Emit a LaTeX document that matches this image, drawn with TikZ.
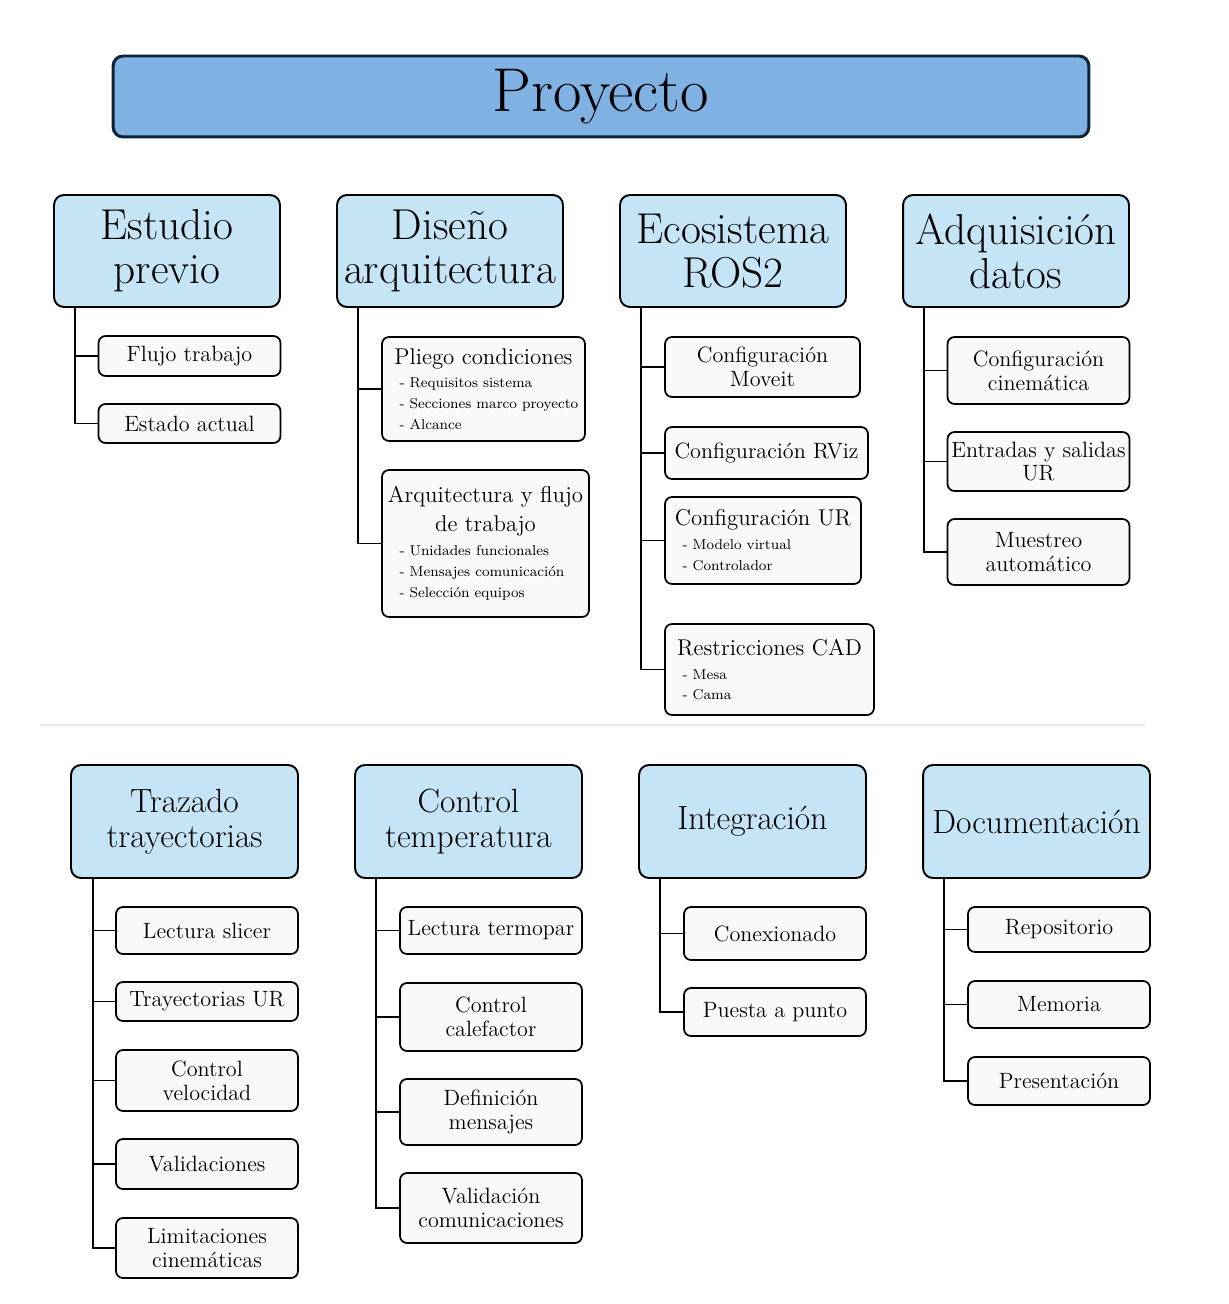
\documentclass[tikz,border=0pt]{standalone}
\usepackage{fontspec}
\definecolor{titlefill}{HTML}{7FB2E2}
\definecolor{titledraw}{HTML}{0E2336}
\definecolor{headfill}{HTML}{C5E4F5}
\definecolor{leaffill}{HTML}{F9F9F9}
\definecolor{sepgray}{HTML}{EBEBEB}
\newcommand{\sublist}[2]{\parbox[t]{#1}{\raggedright\leftskip=0.25cm\fontsize{8.15}{11.9}\selectfont #2}}

\begin{document}
\begin{tikzpicture}[x=0.02cm,y=-0.02cm,
  titlebox/.style={draw=titledraw, fill=titlefill, line width=1.7pt, rounded corners=0.2cm,
    minimum width=19.52cm, minimum height=1.62cm, font=\fontsize{35.2}{37}\selectfont},
  headbox/.style={draw, fill=headfill, line width=1.1pt, rounded corners=0.2cm, align=center,
    minimum width=4.52cm, minimum height=2.24cm, inner sep=2pt, font=\fontsize{24.6}{25}\selectfont},
  headboxb/.style={headbox, minimum width=4.54cm, minimum height=2.26cm, font=\fontsize{19.1}{19.9}\selectfont},
  leafbox/.style={draw, fill=leaffill, line width=1pt, rounded corners=0.14cm, align=center,
    minimum width=3.64cm, inner sep=2pt, font=\fontsize{12.6}{13.6}\selectfont},
  listbox/.style={leafbox, font=\fontsize{13}{13.6}\selectfont},
  link/.style={line width=1.1pt},
]
\useasboundingbox (0,0) rectangle (1228,1304);

\node[titlebox] (proyecto) at (601,96.5) {Proyecto};

% primera fila
\node[headbox] (estudio) at (167,251) {Estudio\\previo};
\node[headbox] (diseno) at (450,251) {Diseño\\arquitectura};
\node[headbox] (ros) at (733,251) {Ecosistema\\ROS2};
\node[headbox] (adq) at (1016,251) {Adquisición\\datos};

\node[leafbox, minimum height=0.8cm] (flujo) at (189.5,356) {Flujo trabajo};
\node[leafbox, minimum height=0.78cm] (estado) at (189.5,423.5) {Estado actual};

\node[listbox, minimum width=4.06cm, minimum height=2.08cm] (pliego) at (483.5,389)
  {Pliego condiciones\\\sublist{3.86cm}{- Requisitos sistema\\- Secciones marco proyecto\\- Alcance}};
\node[listbox, minimum width=4.14cm, minimum height=2.94cm] (arqui) at (485.5,543.5)
  {Arquitectura y flujo\\[3pt]de trabajo\\\sublist{3.94cm}{- Unidades funcionales\\- Mensajes comunicación\\- Selección equipos}};

\node[leafbox, minimum width=3.9cm, minimum height=1.2cm] (moveit) at (762.5,367) {Configuración\\Moveit};
\node[leafbox, minimum width=4.06cm, minimum height=1.04cm] (rviz) at (766.5,453) {Configuración RViz};
\node[listbox, minimum width=3.92cm, minimum height=1.74cm] (confur) at (763,540.5)
  {Configuración UR\\\sublist{3.72cm}{- Modelo virtual\\- Controlador}};
\node[listbox, minimum width=4.18cm, minimum height=1.82cm] (cad) at (769.5,669.5)
  {Restricciones CAD\\\sublist{3.98cm}{- Mesa\\- Cama}};

\node[leafbox, minimum height=1.34cm] (cinem) at (1038.5,370.5) {Configuración\\cinemática};
\node[leafbox, minimum height=1.18cm] (entradas) at (1038.5,461.5) {Entradas y salidas\\UR};
\node[leafbox, minimum height=1.32cm] (muestreo) at (1038.5,552) {Muestreo\\automático};

\draw[link] ([xshift=0.44cm]estudio.south west) |- (flujo.west);
\draw[link] ([xshift=0.44cm]estudio.south west) |- (estado.west);
\draw[link] ([xshift=0.44cm]diseno.south west) |- (pliego.west);
\draw[link] ([xshift=0.44cm]diseno.south west) |- (arqui.west);
\draw[link] ([xshift=0.44cm]ros.south west) |- (moveit.west);
\draw[link] ([xshift=0.44cm]ros.south west) |- (rviz.west);
\draw[link] ([xshift=0.44cm]ros.south west) |- (confur.west);
\draw[link] ([xshift=0.44cm]ros.south west) |- (cad.west);
\draw[link] ([xshift=0.44cm]adq.south west) |- (cinem.west);
\draw[link] ([xshift=0.44cm]adq.south west) |- (entradas.west);
\draw[link] ([xshift=0.44cm]adq.south west) |- (muestreo.west);

\draw[sepgray, line width=0.6pt] (40,725) -- (1145,725);

% segunda fila
\node[headboxb] (trazado) at (184.5,821.5) {Trazado\\trayectorias};
\node[headboxb] (temp) at (468.5,821.5) {Control\\temperatura};
\node[headboxb] (integ) at (752.5,821.5) {Integración};
\node[headboxb] (docu) at (1036.5,821.5) {Documentación};

\node[leafbox, minimum height=0.94cm] (slicer) at (207,930.5) {Lectura slicer};
\node[leafbox, minimum height=0.78cm] (trayur) at (207,1001.5) {Trayectorias UR};
\node[leafbox, minimum height=1.22cm] (veloc) at (207,1080.5) {Control\\velocidad};
\node[leafbox, minimum height=1.0cm] (valid) at (207,1164) {Validaciones};
\node[leafbox, minimum height=1.2cm] (limit) at (207,1248) {Limitaciones\\cinemáticas};

\node[leafbox, minimum height=0.94cm] (termopar) at (491,930.5) {Lectura termopar};
\node[leafbox, minimum height=1.36cm] (calef) at (491,1017) {Control\\calefactor};
\node[leafbox, minimum height=1.32cm] (mensajes) at (491,1112) {Definición\\mensajes};
\node[leafbox, minimum height=1.4cm] (comunic) at (491,1208) {Validación\\comunicaciones};

\node[leafbox, minimum height=1.06cm] (conex) at (775,933.5) {Conexionado};
\node[leafbox, minimum height=0.96cm] (puesta) at (775,1012) {Puesta a punto};

\node[leafbox, minimum height=0.9cm] (repo) at (1059,929.5) {Repositorio};
\node[leafbox, minimum height=0.94cm] (memoria) at (1059,1004.5) {Memoria};
\node[leafbox, minimum height=0.96cm] (present) at (1059,1081) {Presentación};

\draw[link] ([xshift=0.46cm]trazado.south west) |- (slicer.west);
\draw[link] ([xshift=0.46cm]trazado.south west) |- (trayur.west);
\draw[link] ([xshift=0.46cm]trazado.south west) |- (veloc.west);
\draw[link] ([xshift=0.46cm]trazado.south west) |- (valid.west);
\draw[link] ([xshift=0.46cm]trazado.south west) |- (limit.west);
\draw[link] ([xshift=0.44cm]temp.south west) |- (termopar.west);
\draw[link] ([xshift=0.44cm]temp.south west) |- (calef.west);
\draw[link] ([xshift=0.44cm]temp.south west) |- (mensajes.west);
\draw[link] ([xshift=0.44cm]temp.south west) |- (comunic.west);
\draw[link] ([xshift=0.44cm]integ.south west) |- (conex.west);
\draw[link] ([xshift=0.44cm]integ.south west) |- (puesta.west);
\draw[link] ([xshift=0.44cm]docu.south west) |- (repo.west);
\draw[link] ([xshift=0.44cm]docu.south west) |- (memoria.west);
\draw[link] ([xshift=0.44cm]docu.south west) |- (present.west);

\end{tikzpicture}
\end{document}
